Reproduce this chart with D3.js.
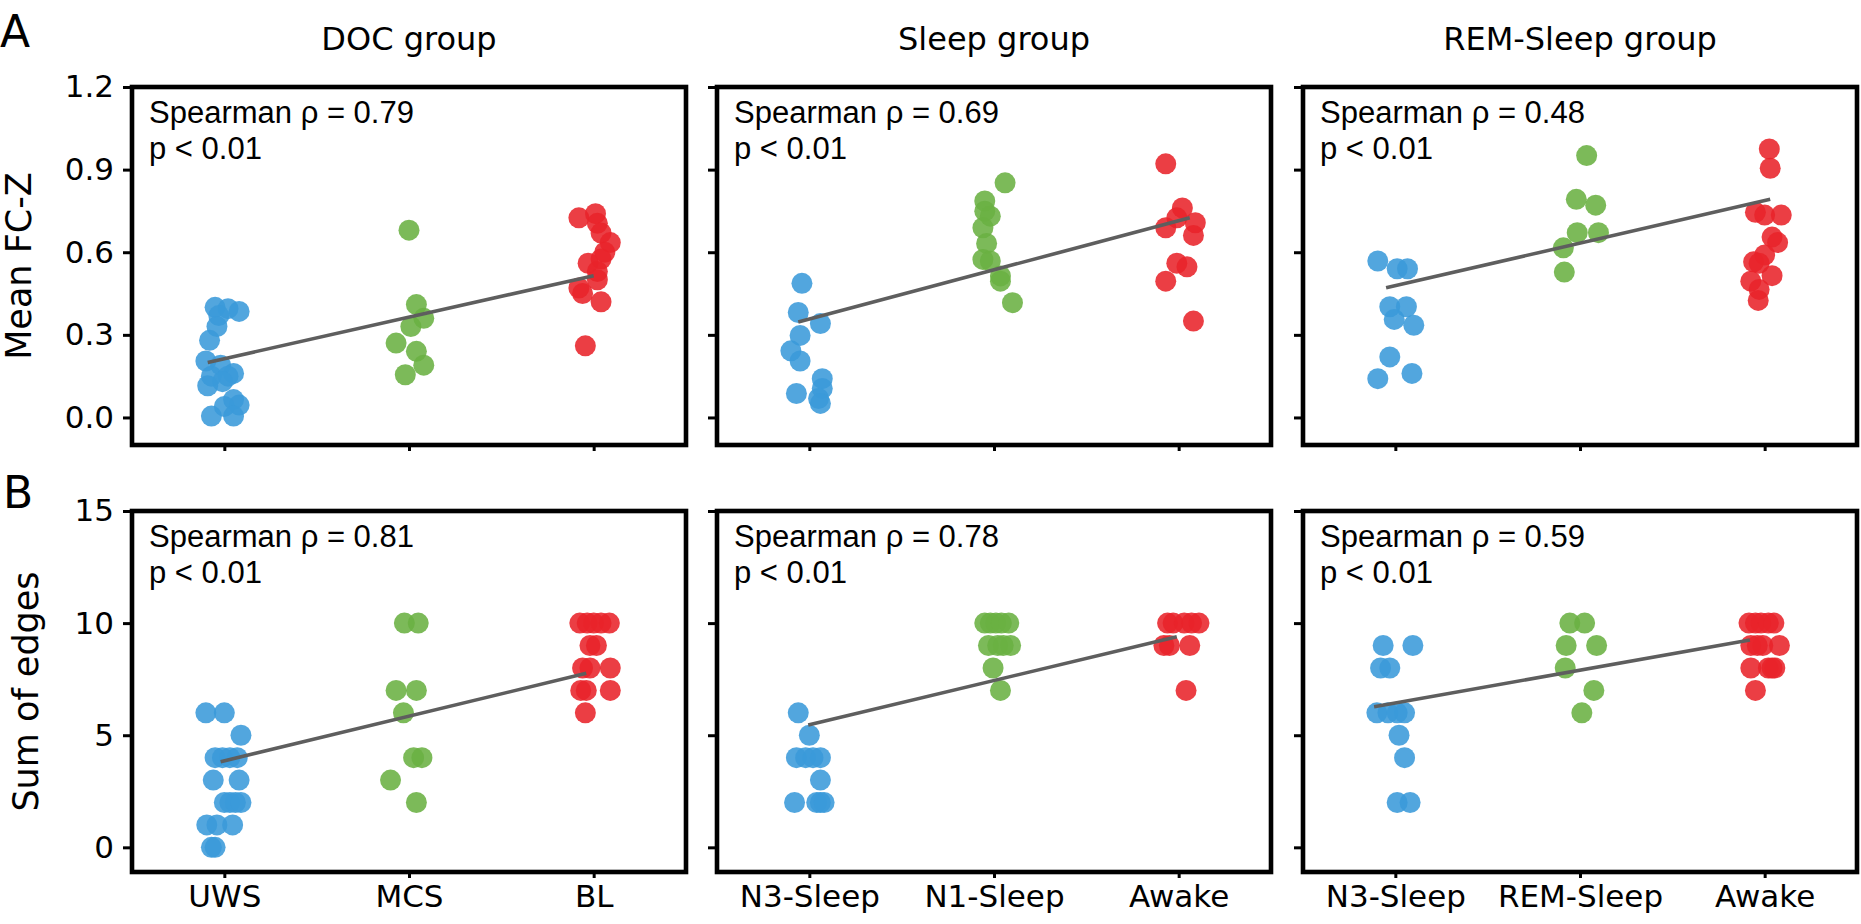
<!DOCTYPE html>
<html>
<head>
<meta charset="utf-8">
<script src="https://cdn.jsdelivr.net/npm/d3@7"></script>
<style>
  html, body { margin: 0; padding: 0; background: #ffffff; }
  svg { display: block; }
</style>
</head>
<body>
<svg id="chart" width="1861" height="924"></svg>
<script>
// ---------------- DATA ----------------
const groupTitles = ["DOC group", "Sleep group", "REM-Sleep group"];
const categoriesDOC = ["UWS", "MCS", "BL"];
const categoriesSleep = ["N3-Sleep", "N1-Sleep", "Awake"];
const categoriesREM = ["N3-Sleep", "REM-Sleep", "Awake"];
const rowLabels = ["A", "B"];
const yLabels = ["Mean FC-Z", "Sum of edges"];
const yTicksFC = [0, 0.3, 0.6, 0.9, 1.2];
const yTicksEdges = [0, 5, 10, 15];
const spearmanFC = ["0.79", "0.69", "0.48"];
const spearmanEdges = ["0.81", "0.78", "0.59"];
const pText = "p < 0.01";

// points: [jitter in category units, value]
// Row A: Mean FC-Z
const fcDOC_UWS = [[-0.05,0.40],[0.02,0.395],[0.08,0.385],[-0.03,0.37],[-0.04,0.33],[-0.08,0.28],[-0.10,0.205],[-0.02,0.19],[0.05,0.16],[-0.07,0.15],[0.02,0.15],[-0.01,0.13],[-0.09,0.115],[0.05,0.065],[0.08,0.045],[0.00,0.04],[-0.07,0.005],[0.05,0.005]];
const fcDOC_MCS = [[0.0,0.68],[0.04,0.41],[0.08,0.36],[0.01,0.33],[-0.07,0.27],[0.04,0.24],[0.08,0.19],[-0.02,0.155]];
const fcDOC_BL = [[-0.08,0.725],[0.01,0.74],[0.02,0.705],[0.04,0.67],[0.09,0.635],[0.06,0.60],[0.04,0.575],[-0.03,0.56],[0.02,0.53],[0.02,0.50],[-0.08,0.47],[-0.06,0.45],[0.04,0.42],[-0.045,0.26]];
const fcSleep_N3 = [[-0.04,0.487],[-0.06,0.381],[0.06,0.341],[-0.05,0.298],[-0.10,0.242],[-0.05,0.205],[0.07,0.141],[0.07,0.105],[-0.07,0.087],[0.05,0.069],[0.06,0.051]];
const fcSleep_N1 = [[0.06,0.852],[-0.05,0.786],[-0.05,0.749],[-0.02,0.731],[-0.06,0.689],[-0.04,0.632],[-0.06,0.574],[-0.02,0.568],[0.035,0.514],[0.035,0.495],[0.10,0.417]];
const fcSleep_Awake = [[-0.07,0.921],[0.02,0.761],[-0.01,0.725],[0.09,0.707],[-0.07,0.689],[0.08,0.661],[-0.01,0.56],[0.045,0.547],[-0.07,0.495],[0.08,0.35]];
const fcREM_N3 = [[-0.095,0.568],[0.01,0.54],[0.066,0.54],[-0.03,0.402],[0.06,0.402],[-0.006,0.356],[0.10,0.335],[-0.03,0.22],[0.09,0.16],[-0.095,0.141]];
const fcREM_REM = [[0.036,0.951],[-0.02,0.792],[0.085,0.771],[-0.015,0.671],[0.10,0.671],[-0.09,0.616],[-0.085,0.528]];
const fcREM_Awake = [[0.025,0.975],[0.03,0.905],[-0.05,0.745],[0.0,0.735],[0.09,0.735],[0.04,0.655],[0.07,0.635],[0.0,0.59],[-0.06,0.565],[-0.03,0.56],[0.04,0.515],[-0.075,0.495],[-0.03,0.465],[-0.035,0.425]];
// Row B: Sum of edges
const edDOC_UWS = [[-0.10,6],[0.0,6],[0.09,5],[-0.05,4],[-0.01,4],[0.03,4],[0.07,4],[-0.06,3],[0.08,3],[0.0,2],[0.03,2],[0.06,2],[0.09,2],[-0.095,1],[-0.04,1],[0.045,1],[-0.07,0],[-0.05,0]];
const edDOC_MCS = [[-0.025,10],[0.05,10],[-0.07,7],[0.04,7],[-0.03,6],[0.025,4],[0.07,4],[-0.10,3],[0.04,2]];
const edDOC_BL = [[-0.075,10],[-0.035,10],[0.0,10],[0.04,10],[0.085,10],[-0.02,9],[0.015,9],[-0.06,8],[-0.02,8],[0.09,8],[-0.07,7],[-0.04,7],[0.09,7],[-0.045,6]];
const edSleep_N3 = [[-0.06,6],[0.0,5],[-0.07,4],[-0.02,4],[0.02,4],[0.06,4],[0.06,3],[-0.08,2],[0.04,2],[0.06,2],[0.08,2]];
const edSleep_N1 = [[-0.05,10],[-0.02,10],[0.01,10],[0.04,10],[0.08,10],[-0.03,9],[0.02,9],[0.05,9],[0.09,9],[-0.005,8],[0.035,7]];
const edSleep_Awake = [[-0.06,10],[-0.03,10],[0.03,10],[0.07,10],[0.11,10],[-0.08,9],[-0.05,9],[0.06,9],[0.04,7]];
const edREM_N3 = [[-0.066,9],[0.095,9],[-0.08,8],[-0.03,8],[-0.10,6],[-0.04,6],[0.01,6],[0.05,6],[0.02,5],[0.05,4],[0.01,2],[0.08,2]];
const edREM_REM = [[-0.055,10],[0.025,10],[-0.075,9],[0.09,9],[-0.08,8],[0.075,7],[0.01,6]];
const edREM_Awake = [[-0.085,10],[-0.05,10],[-0.02,10],[0.02,10],[0.05,10],[-0.075,9],[-0.04,9],[-0.01,9],[0.08,9],[-0.075,8],[0.02,8],[0.04,8],[0.055,8],[-0.05,7]];

// regression line end points: [x (category units), y]
const lineFC = [[[-0.09,0.20],[2.0,0.515]], [[-0.06,0.347],[2.06,0.725]], [[-0.05,0.471],[2.03,0.792]]];
const lineEdges = [[[-0.02,3.82],[1.96,7.76]], [[-0.006,5.46],[1.99,9.39]], [[-0.115,6.27],[1.92,9.25]]];

// ---------------- LAYOUT / STYLE ----------------
const groupColors = ["#3a9ad9", "#6ab042", "#e8232a"];
const colLefts = [132, 717, 1303];
const panelW = 554;
const rowsGeom = [{top: 87, bottom: 445}, {top: 511, bottom: 872}];
const tickFont = "'DejaVu Sans', sans-serif";
const annFont = "'Liberation Sans', Arial, sans-serif";

const svg = d3.select("#chart");
svg.append("rect").attr("width", 1861).attr("height", 924).attr("fill", "#fff");

const rows = [
  { yDomain: [-0.1, 1.2], yTicks: yTicksFC, fmt: d3.format(".1f"), rho: spearmanFC, lines: lineFC,
    groups: [[fcDOC_UWS, fcDOC_MCS, fcDOC_BL], [fcSleep_N3, fcSleep_N1, fcSleep_Awake], [fcREM_N3, fcREM_REM, fcREM_Awake]] },
  { yDomain: [-1.1, 15], yTicks: yTicksEdges, fmt: d3.format("d"), rho: spearmanEdges, lines: lineEdges,
    groups: [[edDOC_UWS, edDOC_MCS, edDOC_BL], [edSleep_N3, edSleep_N1, edSleep_Awake], [edREM_N3, edREM_REM, edREM_Awake]] }
];
const cats = [categoriesDOC, categoriesSleep, categoriesREM];

rows.forEach((row, ri) => {
  const g = rowsGeom[ri];
  const y = d3.scaleLinear().domain(row.yDomain).range([g.bottom, g.top]);
  for (let ci = 0; ci < 3; ci++) {
    const left = colLefts[ci];
    const x = d3.scaleLinear().domain([-0.5, 2.5]).range([left, left + panelW]);
    const pg = svg.append("g");

    // points
    row.groups[ci].forEach((pts, gi) => {
      pg.append("g").selectAll("circle").data(pts).join("circle")
        .attr("cx", d => x(gi + d[0]))
        .attr("cy", d => y(d[1]))
        .attr("r", 10.5)
        .attr("fill", groupColors[gi])
        .attr("fill-opacity", 0.88);
    });

    // regression line
    pg.append("path")
      .attr("d", d3.line().x(d => x(d[0])).y(d => y(d[1]))(row.lines[ci]))
      .attr("stroke", "#5e5e5e").attr("stroke-width", 3.6).attr("fill", "none");

    // frame
    pg.append("rect")
      .attr("x", left).attr("y", g.top)
      .attr("width", panelW).attr("height", g.bottom - g.top)
      .attr("fill", "none").attr("stroke", "#000").attr("stroke-width", 4.6);

    // y axis
    const ya = d3.axisLeft(y).tickValues(row.yTicks).tickSize(9).tickPadding(9)
      .tickFormat(ci === 0 ? row.fmt : () => "");
    const yg = pg.append("g").attr("transform", `translate(${left},0)`).call(ya);
    yg.select(".domain").remove();
    yg.selectAll(".tick line").attr("stroke", "#000").attr("stroke-width", 3);
    yg.selectAll(".tick text").attr("font-family", tickFont).attr("font-size", 31).attr("fill", "#000");

    // x axis
    const xa = d3.axisBottom(x).tickValues([0, 1, 2]).tickSize(6).tickPadding(7)
      .tickFormat(ri === 1 ? (d => cats[ci][d]) : () => "");
    const xg = pg.append("g").attr("transform", `translate(0,${g.bottom})`).call(xa);
    xg.select(".domain").remove();
    xg.selectAll(".tick line").attr("stroke", "#000").attr("stroke-width", 3);
    xg.selectAll(".tick text").attr("font-family", tickFont).attr("font-size", 31).attr("fill", "#000");

    // annotation
    pg.append("text").attr("x", left + 17).attr("y", g.top + 36)
      .attr("font-family", annFont).attr("font-size", 31).attr("fill", "#000")
      .text(`Spearman \u03C1 = ${row.rho[ci]}`);
    pg.append("text").attr("x", left + 17).attr("y", g.top + 72)
      .attr("font-family", annFont).attr("font-size", 31).attr("fill", "#000")
      .text(pText);

    // group title
    if (ri === 0) {
      svg.append("text").attr("x", left + panelW / 2).attr("y", 50)
        .attr("text-anchor", "middle").attr("font-family", tickFont).attr("font-size", 32)
        .attr("fill", "#000").text(groupTitles[ci]);
    }
  }
  // row y label
  const yc = (g.top + g.bottom) / 2;
  const lx = ri === 0 ? 31 : 38;
  svg.append("text").attr("transform", `translate(${lx},${yc}) rotate(-90)`)
    .attr("text-anchor", "middle").attr("font-family", tickFont).attr("font-size", 35)
    .attr("fill", "#000").text(yLabels[ri]);
  // row letter
  svg.append("text").attr("x", ri === 0 ? 0 : 3).attr("y", ri === 0 ? 47 : 508)
    .attr("font-family", tickFont).attr("font-size", 44).attr("fill", "#000")
    .text(rowLabels[ri]);
});
</script>
</body>
</html>
